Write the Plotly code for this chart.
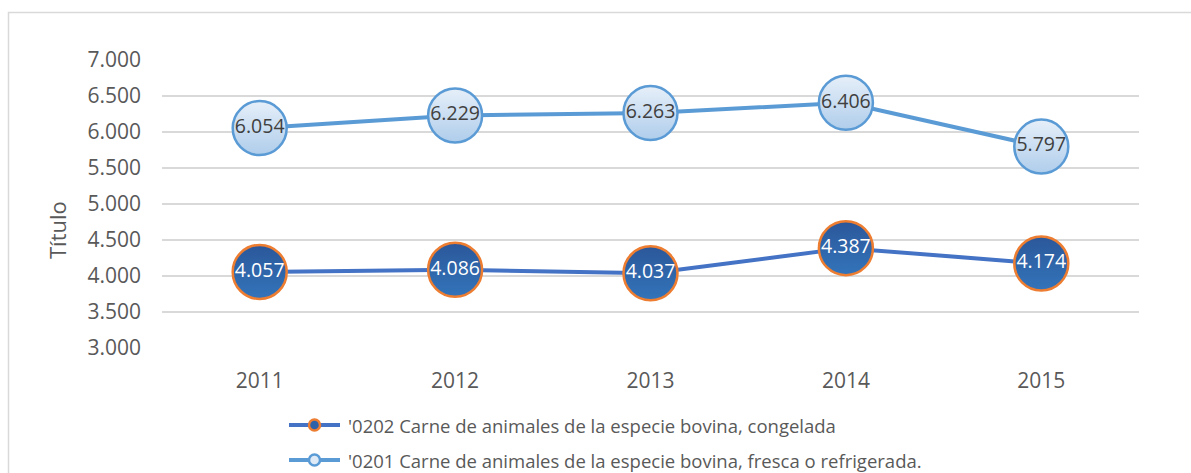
import plotly.graph_objects as go

years = ["2011", "2012", "2013", "2014", "2015"]
congelada = [4057, 4086, 4037, 4387, 4174]
fresca = [6054, 6229, 6263, 6406, 5797]
name_congelada = "'0202 Carne de animales de la especie bovina, congelada"
name_fresca = "'0201 Carne de animales de la especie bovina, fresca o refrigerada."
y_ticks = [3000, 3500, 4000, 4500, 5000, 5500, 6000, 6500, 7000]

FONT = "Open Sans"
GRAY = "#595959"

W, H = 1191, 473
L, R, T, B = 162, 52, 60, 125
pw, ph = W - L - R, H - T - B

def px(x):
    return (x - L) / pw

def py(y):
    return (H - B - y) / ph

fig = go.Figure()

# main traces
fig.add_trace(go.Scatter(
    x=years, y=congelada, mode="lines+markers+text", showlegend=False,
    line=dict(color="#4472C4", width=4),
    marker=dict(size=54, color="#2B579A", line=dict(color="#ED7D31", width=2.5),
                gradient=dict(type="vertical", color="#3374BA")),
    texttemplate="%{y:,.0f}", textposition="middle center",
    textfont=dict(family=FONT, size=19.5, color="white"),
    hoverinfo="skip"))
fig.add_trace(go.Scatter(
    x=years, y=fresca, mode="lines+markers+text", showlegend=False,
    line=dict(color="#5B9BD5", width=4),
    marker=dict(size=54, color="#E6EFF9", line=dict(color="#5B9BD5", width=2.5),
                gradient=dict(type="vertical", color="#AFCDEB")),
    texttemplate="%{y:,.0f}", textposition="middle center",
    textfont=dict(family=FONT, size=19.5, color="#404040"),
    hoverinfo="skip"))

# manual legend (drawn below the plot area)
legend_items = [
    (name_congelada, "#4472C4", "#2E62A8", "#ED7D31", 425),
    (name_fresca, "#5B9BD5", "#DEEBF7", "#5B9BD5", 460),
]
lx0, lx1, ltext = 289, 340, 346
shapes = [dict(type="rect", xref="paper", yref="paper",
               x0=px(8.5), y0=py(490), x1=px(1210), y1=py(12.5),
               line=dict(color="#D9D9D9", width=1.5), layer="below")]
annotations = [dict(text="Título", x=px(57), y=py(230), xref="paper", yref="paper",
                    xanchor="center", yanchor="middle",
                    showarrow=False, textangle=-90,
                    font=dict(family=FONT, size=22, color=GRAY))]
for name, lc, fc, bc, yy in legend_items:
    shapes.append(dict(type="line", xref="paper", yref="paper",
                       x0=px(lx0), x1=px(lx1), y0=py(yy), y1=py(yy),
                       line=dict(color=lc, width=4)))
    shapes.append(dict(type="circle", xref="paper", yref="paper",
                       xsizemode="pixel", ysizemode="pixel",
                       xanchor=px((lx0 + lx1) / 2), yanchor=py(yy),
                       x0=-5.5, x1=5.5, y0=-5.5, y1=5.5,
                       fillcolor=fc, line=dict(color=bc, width=2.5)))
    annotations.append(dict(text=name, x=px(ltext), y=py(yy), xref="paper", yref="paper",
                            xanchor="left", yanchor="middle", showarrow=False,
                            font=dict(family=FONT, size=18.5, color=GRAY)))

fig.update_layout(
    width=W, height=H,
    margin=dict(l=L, r=R, t=T, b=B, pad=0),
    paper_bgcolor="white", plot_bgcolor="white",
    separators=",.",
    font=dict(family=FONT, color=GRAY),
    showlegend=False,
    xaxis=dict(type="category", range=[-0.5, 4.5], showgrid=False, zeroline=False,
               showline=False, ticks="", ticklabelstandoff=18,
               tickfont=dict(size=21, color=GRAY)),
    yaxis=dict(range=[3000, 7000], tickvals=y_ticks, tickformat=",.0f",
               showgrid=True, gridcolor="#D9D9D9", gridwidth=1.5,
               zeroline=False, showline=False, ticks="", ticklabelstandoff=20,
               tickfont=dict(size=21, color=GRAY)),
    annotations=annotations,
    shapes=shapes,
)

fig.write_html("out.html", config={"displayModeBar": False},
               post_script="document.body.style.margin='0px';")
